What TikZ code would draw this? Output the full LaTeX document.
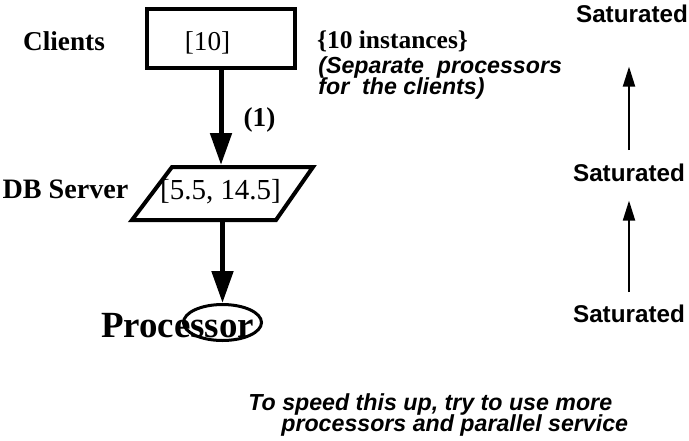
\documentclass[tikz,border=0pt]{standalone}
\usepackage{fontspec}
\setmainfont{Liberation Serif}
\setsansfont{Liberation Sans}
\usetikzlibrary{arrows.meta,shapes.geometric}

\begin{document}
\begin{tikzpicture}[x=0.02cm, y=-0.02cm]

\tikzstyle{every node} = [inner sep=0pt]
\tikzstyle{lbl} = [anchor=base, font=\fontsize{15.5}{18}\selectfont\bfseries]
\tikzstyle{val} = [anchor=base, font=\fontsize{15.5}{18}\selectfont]
\tikzstyle{note} = [anchor=base west, font=\fontsize{13.2}{16}\selectfont\sffamily\bfseries\itshape]
\tikzstyle{sat} = [anchor=base, font=\fontsize{13.8}{16}\selectfont\sffamily\bfseries]
\tikzstyle{bigarrow} = [line width=0.1cm, -{Triangle[length=0.64cm, width=0.42cm]}]
\tikzstyle{thinarrow} = [line width=0.04cm, -{Triangle[length=0.4cm, width=0.24cm]}]

\useasboundingbox (0,0) rectangle (689,440);

\node (clbox) at (221,38.5) [draw, rectangle, line width=0.08cm, minimum width=2.96cm, minimum height=1.18cm] {};
\node (clnum) at (207.5,50) [val] {[10]};
\node (cl) at (64,50) [lbl] {Clients};
\node (inst) at (392.5,48) [lbl, font=\fontsize{14.5}{18}\selectfont\bfseries] {\{10 instances\}};
\node (sep1) at (318,73) [note] {(Separate~ processors};
\node (sep2) at (318,94) [note] {for~ the clients)};
\node (one) at (259.5,126) [lbl] {(1)};

% server parallelogram
\draw[line width=0.08cm, line join=miter] (172,167) -- (313,167) -- (276,220) -- (132,220) -- cycle;
\coordinate (srvtop) at (221,165);
\coordinate (srvbot) at (222.5,222);
\node (srv) at (220.5,199) [val, font=\fontsize{16.5}{18}\selectfont] {[5.5, 14.5]};
\node (db) at (65.5,198) [lbl, font=\fontsize{16}{18}\selectfont\bfseries] {DB Server};

\node (cpu) at (222.5,322.5) [draw, ellipse, line width=0.06cm, minimum width=1.56cm, minimum height=0.72cm] {};
\node (proc) at (177.5,337) [lbl, font=\fontsize{21}{24}\selectfont\bfseries] {Processor};

\node (s1) at (632,22) [sat] {Saturated};
\node (s2) at (629,181) [sat] {Saturated};
\node (s3) at (629,322) [sat] {Saturated};

\node (tip1) at (248,410) [note] {To speed this up, try to use more};
\node (tip2) at (281,431) [note] {processors and parallel service};

\draw[bigarrow] (clbox.south) -- (srvtop);
\draw[bigarrow] (srvbot) -- (cpu.north);

\draw[thinarrow, shorten <=0.26cm, shorten >=0.88cm] (s2.north) -- (s2.north |- s1.south);
\draw[thinarrow, shorten <=0.24cm, shorten >=0.38cm] (s3.north) -- (s3.north |- s2.south);
\end{tikzpicture}
\end{document}
